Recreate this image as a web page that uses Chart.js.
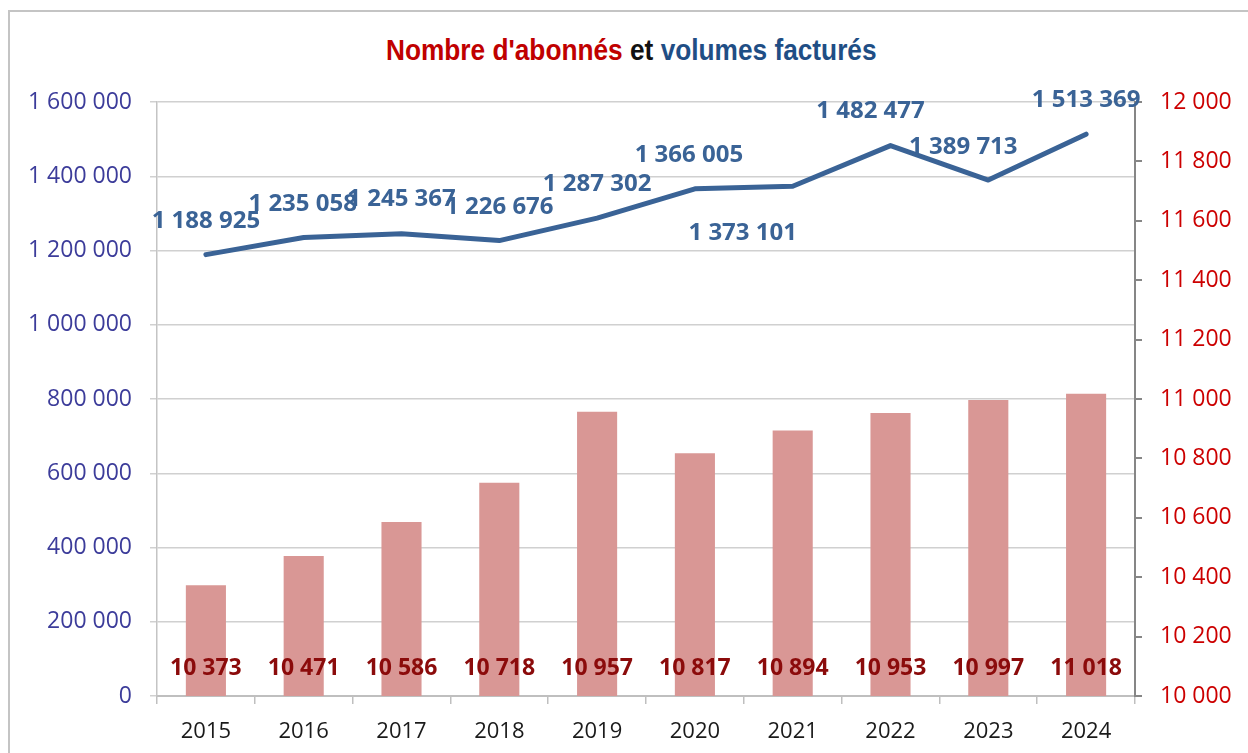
<!DOCTYPE html>
<html>
<head>
<meta charset="utf-8">
<script src="https://cdn.jsdelivr.net/npm/chart.js@4.4.1/dist/chart.umd.min.js"></script>
<style>
    body { margin: 0; background: #fff; }
    #wrap { position: relative; width: 1248px; height: 753px; overflow: hidden; }
    #frame { position: absolute; left: 8px; top: 10px; width: 1300px; height: 800px;
             border-left: 2px solid #c4c4c4; border-top: 2px solid #c4c4c4; }
    #title { position: absolute; left: 386px; top: 35px; white-space: nowrap;
             font-family: "Liberation Sans Narrow", "Arial Narrow", "Liberation Sans", sans-serif;
             font-weight: bold; font-size: 30px; line-height: 30px;
             transform: scaleX(0.875); transform-origin: 0 0; }
    canvas { position: absolute; left: 0; top: 0; }
</style>
</head>
<body>
<div id="wrap">
    <div id="frame"></div>
    <div id="title"><span style="color:#c00000">Nombre d'abonnés</span> <span style="color:#111">et</span> <span style="color:#1f4e85">volumes facturés</span></div>
    <canvas id="myChart" width="1248" height="753"></canvas>
</div>
<script>
var years = ['2015', '2016', '2017', '2018', '2019', '2020', '2021', '2022', '2023', '2024'];
var abonnes = [10373, 10471, 10586, 10718, 10957, 10817, 10894, 10953, 10997, 11018];
var volumes = [1188925, 1235058, 1245367, 1226676, 1287302, 1366005, 1373101, 1482477, 1389713, 1513369];

// where each volume label sits relative to its point (dx, dy)
var volLabelShift = [[0, -33], [-1, -33], [0, -35], [0, -33], [0, -34], [-6, -34], [-50, 47], [-20, -34], [-25, -33], [0, -34]];

function fmt(n) {
    return String(n).replace(/\B(?=(\d{3})+(?!\d))/g, ' ');
}

// draws the value labels the way Excel had them
var valueLabels = {
    id: 'valueLabels',
    afterDatasetsDraw: function (chart) {
        var c = chart.ctx;
        c.save();
        c.textAlign = 'center';
        c.textBaseline = 'middle';

        var baseY = chart.scales.y1.getPixelForValue(10000);
        var barMeta = chart.getDatasetMeta(0);
        c.font = 'bold 23px "Open Sans"';
        c.fillStyle = '#8b0b0b';
        barMeta.data.forEach(function (bar, i) {
            c.fillText(fmt(abonnes[i]), bar.x, baseY - 28);
        });

        var lineMeta = chart.getDatasetMeta(1);
        c.font = 'bold 24px "Open Sans"';
        c.fillStyle = '#3a6396';
        lineMeta.data.forEach(function (pt, i) {
            c.fillText(fmt(volumes[i]), pt.x + volLabelShift[i][0], pt.y + volLabelShift[i][1]);
        });
        c.restore();
    }
};

const ctx = document.getElementById('myChart');

new Chart(ctx, {
    type: 'bar',
    data: {
        labels: years,
        datasets: [{
            type: 'bar',
            label: "Nombre d'abonnés",
            data: abonnes,
            yAxisID: 'y1',
            backgroundColor: '#d99795',
            barPercentage: 0.41,
            categoryPercentage: 1,
            order: 2
        }, {
            type: 'line',
            label: 'Volumes facturés',
            data: volumes,
            yAxisID: 'y',
            borderColor: '#3a6396',
            borderWidth: 5,
            pointRadius: 0,
            tension: 0,
            borderCapStyle: 'round',
            borderJoinStyle: 'round',
            order: 1
        }]
    },
    options: {
        responsive: false,
        animation: false,
        layout: {
            padding: { top: 102, left: 0, right: 0, bottom: 0 }
        },
        plugins: {
            legend: { display: false },
            title: { display: false },
            tooltip: { enabled: false }
        },
        scales: {
            x: {
                offset: true,
                grid: { display: true, drawOnChartArea: false, drawTicks: true, tickLength: 8, color: '#bfbfbf', lineWidth: 1.5, offset: true },
                border: { color: '#bfbfbf', width: 2 },
                ticks: { color: '#1a1a1a', font: { family: 'Open Sans', size: 22 }, padding: 15 },
                afterFit: function (scale) { scale.height = 57; }
            },
            y: {
                position: 'left',
                min: 0,
                max: 1600000,
                ticks: {
                    stepSize: 200000,
                    color: '#3c3c9a',
                    font: { family: 'Open Sans', size: 23 },
                    padding: 18,
                    callback: function (v) { return fmt(v); }
                },
                grid: { color: '#d0d0d0', lineWidth: 1.5, tickLength: 7 },
                border: { color: '#c4c4c4', width: 1.5 },
                afterFit: function (scale) { scale.width = 157; }
            },
            y1: {
                position: 'right',
                min: 10000,
                max: 12000,
                ticks: {
                    stepSize: 200,
                    color: '#cc0000',
                    font: { family: 'Open Sans', size: 23 },
                    padding: 18,
                    callback: function (v) { return fmt(v); }
                },
                grid: { drawOnChartArea: false, color: '#868686', lineWidth: 2, tickLength: 7 },
                border: { color: '#868686', width: 2 },
                afterFit: function (scale) { scale.width = 113; }
            }
        }
    },
    plugins: [valueLabels]
});
</script>
</body>
</html>
